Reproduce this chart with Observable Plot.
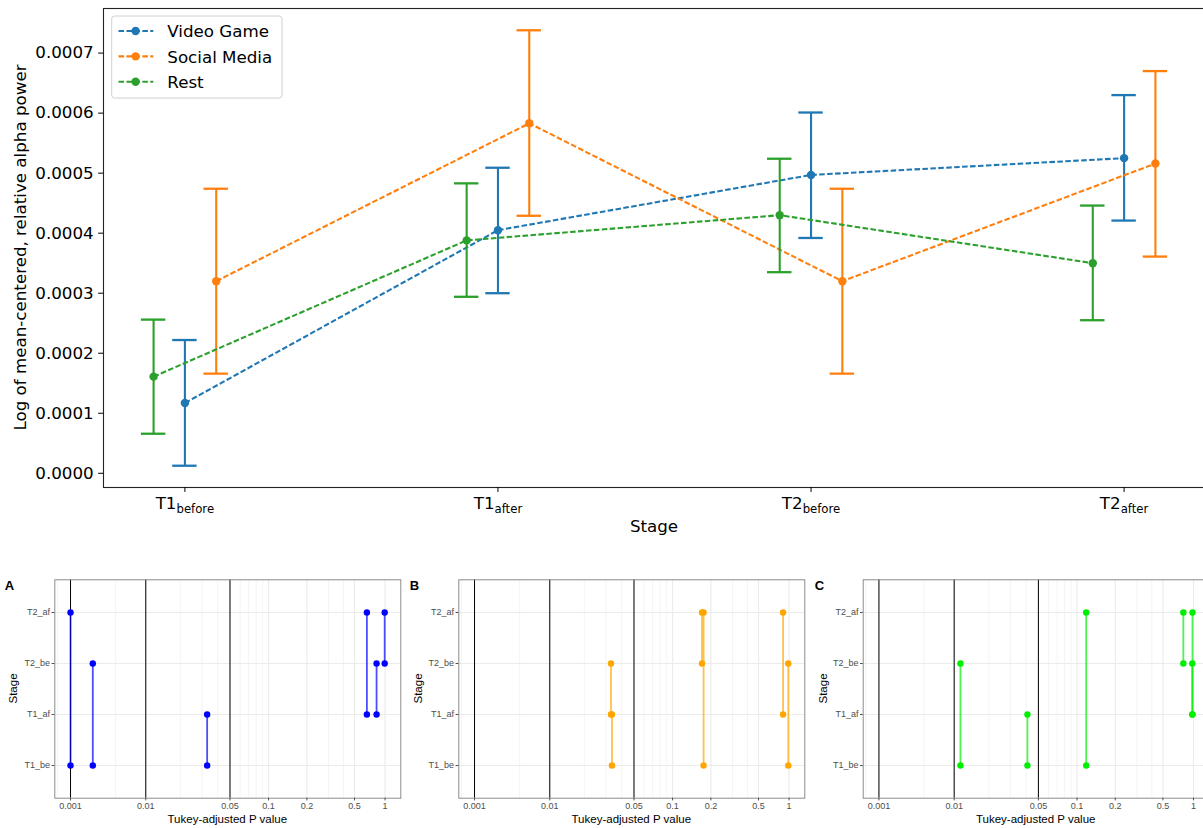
<!DOCTYPE html>
<html>
<head>
<meta charset="utf-8">
<script src="https://cdn.jsdelivr.net/npm/d3@7"></script>
<script src="https://cdn.jsdelivr.net/npm/@observablehq/plot@0.6"></script>
<style>
  html, body { margin: 0; padding: 0; background: #fff; overflow: hidden; width: 1203px; height: 828px; }
  #top { position: absolute; left: 0; top: 0; width: 1210px; }
  .overlay { position: absolute; left: 0; top: 0; }
  .panel { position: absolute; top: 570px; width: 405px; }
  svg { max-width: none !important; }
</style>
</head>
<body>
<div id="top"></div>
<div id="bottom"></div>
<script>
// ---------- Main figure: alpha power by stage and condition ----------
const stages = ["T1_before", "T1_after", "T2_before", "T2_after"];
const groups = ["Video Game", "Social Media", "Rest"];
const groupColors = ["#1f77b4", "#ff7f0e", "#2ca02c"];

const videoGameMean = [0.000117, 0.000405, 0.000497, 0.000525];
const videoGameLow  = [0.0000126, 0.000300, 0.000392, 0.000421];
const videoGameHigh = [0.000222, 0.000509, 0.000601, 0.000630];

const socialMediaMean = [0.000320, 0.000583, 0.000320, 0.000516];
const socialMediaLow  = [0.000166, 0.000429, 0.000166, 0.000361];
const socialMediaHigh = [0.000474, 0.000738, 0.000474, 0.000670];

const restMean = [0.000161, 0.000388, 0.000430, 0.000350];
const restLow  = [0.0000659, 0.000294, 0.000335, 0.000255];
const restHigh = [0.000256, 0.000483, 0.000524, 0.000446];

const yTicks = [0, 0.0001, 0.0002, 0.0003, 0.0004, 0.0005, 0.0006, 0.0007];

// ---------- Pairwise comparisons (Tukey-adjusted) ----------
const stageCodes = ["T1_be", "T1_af", "T2_be", "T2_af"];
const pairFrom = ["T1_be", "T1_be", "T1_be", "T1_af", "T1_af", "T2_be"];
const pairTo   = ["T1_af", "T2_be", "T2_af", "T2_be", "T2_af", "T2_af"];
const pVideoGame   = [0.033, 0.0026, 0.001, 0.81, 0.65, 0.99];
const pSocialMedia = [0.0335, 0.98, 0.175, 0.0329, 0.86, 0.170];
const pRest        = [0.041, 0.0114, 0.118, 0.97, 0.975, 0.78];
const thresholds = [0.001, 0.01, 0.05];
const pTicks = [0.001, 0.01, 0.05, 0.1, 0.2, 0.5, 1];
const pTickLabels = ["0.001", "0.01", "0.05", "0.1", "0.2", "0.5", "1"];
const pMinorGrid = [0.0003, 0.005, 0.02, 0.03, 0.04, 0.06, 0.07, 0.08, 0.09, 0.3, 0.4];
const pLimits = [0.001, 1];

// ---------- Build rows ----------
const dodge = {"Rest": -0.1, "Video Game": 0, "Social Media": 0.1};
const series = {
  "Video Game": [videoGameMean, videoGameLow, videoGameHigh],
  "Social Media": [socialMediaMean, socialMediaLow, socialMediaHigh],
  "Rest": [restMean, restLow, restHigh]
};
const rows = [];
for (const g of groups) {
  const [m, lo, hi] = series[g];
  stages.forEach((s, i) => rows.push({group: g, stage: s, x: i + dodge[g], mean: m[i], low: lo[i], high: hi[i]}));
}

const yMin = d3.min(rows, d => d.low), yMax = d3.max(rows, d => d.high);
const yPad = (yMax - yMin) * 0.05;
const xMin = d3.min(rows, d => d.x), xMax = d3.max(rows, d => d.x);
const xPad = (xMax - xMin) * 0.05;
const capHalf = 0.039;
const dash = "5.55 2.4";

const perGroupMarks = groups.flatMap((g, gi) => {
  const data = rows.filter(d => d.group === g);
  const c = groupColors[gi];
  return [
    Plot.line(data, {x: "x", y: "mean", stroke: c, strokeWidth: 2.08, strokeDasharray: dash, strokeLinecap: "butt"}),
    Plot.ruleX(data, {x: "x", y1: "low", y2: "high", stroke: c, strokeWidth: 2.1}),
    Plot.ruleY(data, {y: "low", x1: d => d.x - capHalf, x2: d => d.x + capHalf, stroke: c, strokeWidth: 2.3}),
    Plot.ruleY(data, {y: "high", x1: d => d.x - capHalf, x2: d => d.x + capHalf, stroke: c, strokeWidth: 2.3}),
    Plot.dot(data, {x: "x", y: "mean", fill: c, r: 4.2})
  ];
});

const topPlot = Plot.plot({
  width: 1210, height: 550,
  marginLeft: 103, marginRight: 5, marginTop: 8, marginBottom: 63,
  style: {fontFamily: "DejaVu Sans, sans-serif", fontSize: "16.7px", color: "#000", background: "transparent", overflow: "visible"},
  x: {domain: [xMin - xPad, xMax + xPad]},
  y: {domain: [yMin - yPad, yMax + yPad]},
  marks: [
    ...perGroupMarks,
    Plot.frame({stroke: "#222", strokeWidth: 1.1}),
    Plot.axisY(yTicks, {tickFormat: d => d.toFixed(4), tickSize: 4.9, tickPadding: 4.9, label: null, fontSize: 16.7}),
    Plot.axisX(d3.range(stages.length), {tickFormat: i => stages[i], tickSize: 4.9, tickPadding: 4.9, label: null, fontSize: 16.7})
  ]
});

// stage labels with subscripts
d3.select(topPlot).selectAll('[aria-label="x-axis tick label"] text').each(function() {
  const t = d3.select(this);
  const [main, sub] = t.text().split("_");
  t.text(null);
  t.append("tspan").text(main);
  t.append("tspan").attr("font-size", "11.7px").attr("dy", "4").text(sub);
});

const topSel = d3.select(topPlot);
topSel.append("text")
  .attr("transform", "translate(25.5,247.5) rotate(-90)")
  .attr("text-anchor", "middle")
  .attr("font-size", "16.7px")
  .attr("fill", "#000")
  .text("Log of mean-centered, relative alpha power");
topSel.append("text")
  .attr("x", 654).attr("y", 532)
  .attr("text-anchor", "middle")
  .attr("font-size", "16.7px")
  .attr("fill", "#000")
  .text("Stage");

document.getElementById("top").appendChild(topPlot);

// legend
const legend = d3.select("#top").append("svg")
  .attr("class", "overlay")
  .attr("width", 300).attr("height", 110)
  .style("font-family", "DejaVu Sans, sans-serif");
legend.append("rect")
  .attr("x", 111.7).attr("y", 16).attr("width", 170.3).attr("height", 82).attr("rx", 3)
  .attr("fill", "#fff").attr("fill-opacity", 0.8)
  .attr("stroke", "#d0d0d0").attr("stroke-width", 1);
groups.forEach((g, i) => {
  const cy = 31 + i * 25.35;
  legend.append("line")
    .attr("x1", 118.5).attr("x2", 153.3).attr("y1", cy).attr("y2", cy)
    .attr("stroke", groupColors[i]).attr("stroke-width", 2.08).attr("stroke-dasharray", dash);
  legend.append("circle").attr("cx", 135.6).attr("cy", cy).attr("r", 4.2).attr("fill", groupColors[i]);
  legend.append("text").attr("x", 167.3).attr("y", cy + 6.2)
    .attr("font-size", "16.7px").attr("fill", "#000").text(g);
});

// ---------- Comparison panels ----------
// log-like axis for P values, compressed at both tails
const pScale = p => Math.log(p + 0.0025) - 0.35 * p;
const tickLabelOf = new Map(pTicks.map((p, i) => [pScale(p), pTickLabels[i]]));

function comparisonPanel(letter, pvals, color, left, marginLeft) {
  const comps = pvals.map((p, i) => ({from: pairFrom[i], to: pairTo[i], p}));
  const lo = pScale(pLimits[0]), hi = pScale(pLimits[1]);
  const pad = (hi - lo) * 0.05;
  const width = 405, panelWidth = 346;
  const svg = Plot.plot({
    width, height: 258,
    marginLeft, marginRight: width - marginLeft - panelWidth, marginTop: 9.3, marginBottom: 30.3,
    style: {fontFamily: "Liberation Sans, Arial, sans-serif", fontSize: "9px", background: "transparent", overflow: "visible"},
    x: {domain: [lo - pad, hi + pad]},
    y: {type: "point", domain: stageCodes.slice().reverse(), padding: 0.6},
    marks: [
      Plot.ruleX(pMinorGrid, {x: pScale, stroke: "#ececec", strokeWidth: 0.6}),
      Plot.ruleX(pTicks, {x: pScale, stroke: "#ebebeb", strokeWidth: 1.1}),
      Plot.ruleY(stageCodes, {y: d => d, stroke: "#ebebeb", strokeWidth: 1.1}),
      Plot.ruleX(thresholds, {x: pScale, stroke: "#000", strokeWidth: 1}),
      Plot.ruleX(comps, {x: d => pScale(d.p), y1: "from", y2: "to", stroke: color, strokeWidth: 1.8, strokeOpacity: 0.7}),
      Plot.dot(comps, {x: d => pScale(d.p), y: "from", fill: color, r: 3.2}),
      Plot.dot(comps, {x: d => pScale(d.p), y: "to", fill: color, r: 3.2}),
      Plot.frame({stroke: "#8c8c8c", strokeWidth: 1}),
      Plot.axisX(pTicks.map(pScale), {tickFormat: d => tickLabelOf.get(d), tickSize: 2.7, tickPadding: 2.2, color: "#4d4d4d", label: null}),
      Plot.axisY({tickSize: 2.7, tickPadding: 2, color: "#4d4d4d", label: null})
    ]
  });
  const s = d3.select(svg);
  const panelCenterX = marginLeft + panelWidth / 2;
  s.append("text").attr("x", panelCenterX).attr("y", 252.5)
    .attr("text-anchor", "middle").attr("font-size", "11.5px").attr("fill", "#000")
    .text("Tukey-adjusted P value");
  s.append("text").attr("transform", `translate(16.8,${9.3 + (258 - 9.3 - 30.3) / 2}) rotate(-90)`)
    .attr("text-anchor", "middle").attr("font-size", "11.5px").attr("fill", "#000")
    .text("Stage");
  s.append("text").attr("x", 9.5).attr("y", 20)
    .attr("font-size", "13px").attr("font-weight", "bold").attr("fill", "#000")
    .text(letter);
  const wrap = document.createElement("div");
  wrap.className = "panel";
  wrap.style.left = left + "px";
  wrap.appendChild(svg);
  document.getElementById("bottom").appendChild(wrap);
}

comparisonPanel("A", pVideoGame, "#0000ff", 0, 54.3);
comparisonPanel("B", pSocialMedia, "#ffa500", 405, 53.3);
comparisonPanel("C", pRest, "#00ee00", 810, 52.7);
</script>
</body>
</html>
